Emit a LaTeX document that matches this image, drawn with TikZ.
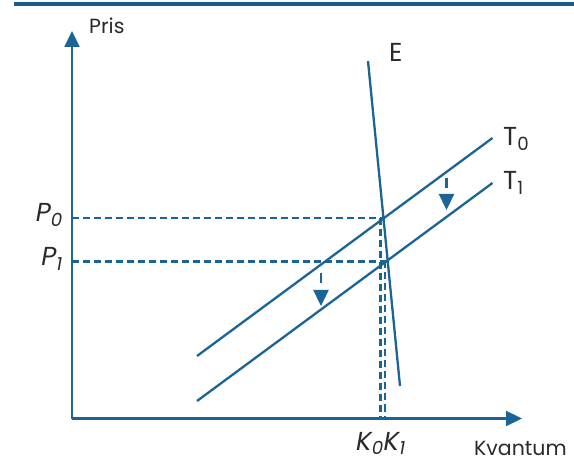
\documentclass[tikz,border=0pt]{standalone}
\usepackage{fontspec}
\setmainfont{Poppins}
\usetikzlibrary{arrows.meta}
\definecolor{lineblue}{HTML}{1B6496}
\definecolor{topblue}{HTML}{175D8C}
\definecolor{txt}{HTML}{2A2A2A}
\tikzset{
  curve/.style={draw=lineblue, line width=2.3pt},
  axis/.style={draw=lineblue, line width=2.3pt, -{Triangle[length=16pt,width=15pt]}},
  guide/.style={draw=lineblue, line width=2.4pt, dash pattern=on 7pt off 4pt},
  shiftarrow/.style={draw=lineblue, line width=2.3pt, dash pattern=on 10pt off 60pt, -{Triangle[length=16pt,width=15pt]}},
  lbl/.style={text=txt, inner sep=0pt, font=\fontsize{20.5}{24}\selectfont},
  mlbl/.style={text=txt, inner sep=0pt, font=\fontsize{26}{30}\selectfont},
}
\begin{document}
\begin{tikzpicture}[x=1pt,y=-1pt]
\useasboundingbox (0,0) rectangle (574,468);
\draw[topblue, line width=3.2pt] (14,4) -- (574,4);
% axes
\coordinate (O) at (72,418.5);
\coordinate (ytip) at (72,31);
\coordinate (xtip) at (522,418.5);
\draw[axis] (O) -- (ytip);
\draw[axis] (O) -- (xtip);
% curves
\coordinate (Etop) at (368,61);
\coordinate (Ebot) at (400,386);
\coordinate (T0a) at (197,356);
\coordinate (T0b) at (492.5,138);
\coordinate (T1a) at (197,401);
\coordinate (T1b) at (492.5,183);
\draw[curve] (Etop) -- (Ebot);
\draw[curve] (T0a) -- (T0b);
\draw[curve] (T1a) -- (T1b);
% guides
\coordinate (X0) at (383.5,218);
\coordinate (X1) at (387,261.5);
\coordinate (P0y) at (72,218);
\coordinate (P1y) at (72,261.5);
\coordinate (V0t) at (380.5,218);
\coordinate (V0b) at (380.5,418);
\coordinate (V1t) at (385,261.5);
\coordinate (V1b) at (385,418);
\draw[guide] (P0y) -- (X0);
\draw[guide] (P1y) -- (X1);
\draw[guide] (V0t) -- (V0b);
\draw[guide] (V1t) -- (V1b);
% shift arrows
\coordinate (s1a) at (321,273);
\coordinate (s1b) at (321,306);
\coordinate (s2a) at (446.5,178);
\coordinate (s2b) at (446.5,210);
\draw[shiftarrow] (s1a) -- (s1b);
\draw[shiftarrow] (s2a) -- (s2b);
% labels
\node[lbl, anchor=base west] (pris) at (89,34) {Pris};
\node[lbl, anchor=base west] (kv) at (474,455) {Kvantum};
\node[mlbl, anchor=base west] (E) at (389,62) {E};
\node[mlbl, anchor=base west] (T0) at (503,146) {T\textsubscript{0}};
\node[mlbl, anchor=base west] (T1) at (503,190) {T\textsubscript{1}};
\node[mlbl, anchor=base east] (P0) at (63,222) {\itshape P\textsubscript{0}};
\node[mlbl, anchor=base east] (P1) at (63,266) {\itshape P\textsubscript{1}};
\node[mlbl, anchor=base west] (K) at (356,450) {\itshape K\textsubscript{0}K\textsubscript{1}};
\end{tikzpicture}
\end{document}
